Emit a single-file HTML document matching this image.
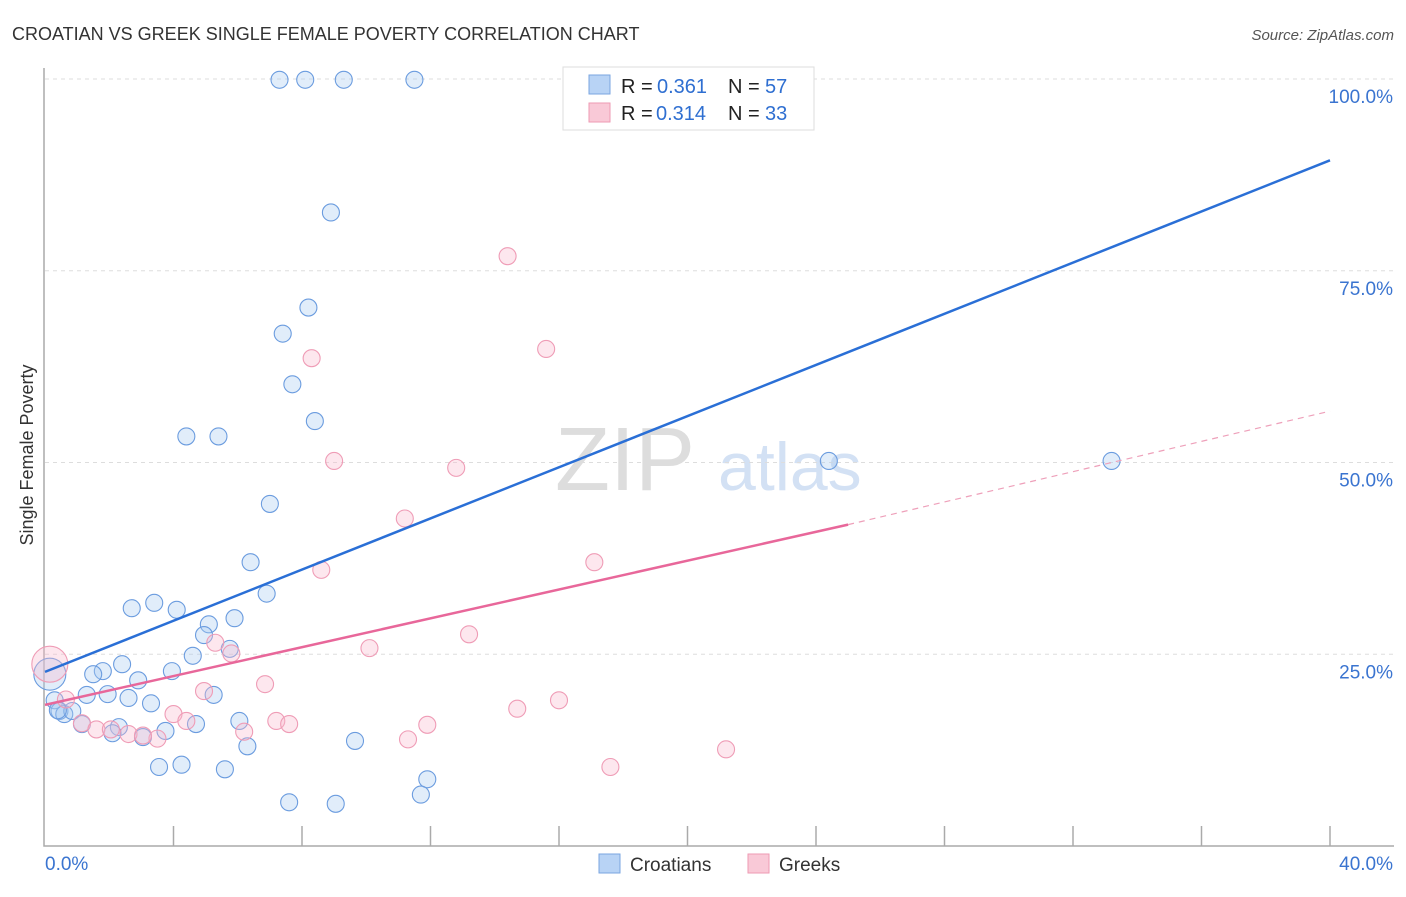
<!DOCTYPE html>
<html><head><meta charset="utf-8"><style>
body{margin:0;background:#fff;font-family:"Liberation Sans",sans-serif}
svg text{font-family:"Liberation Sans",sans-serif}
</style></head><body>
<svg id="c" width="1406" height="892">
<text x="12" y="40" font-size="18" fill="#333">CROATIAN VS GREEK SINGLE FEMALE POVERTY CORRELATION CHART</text>
<text x="1394" y="40" font-size="15" fill="#555" text-anchor="end" font-style="italic">Source: ZipAtlas.com</text>
<text x="33" y="455" font-size="18" fill="#333" text-anchor="middle" transform="rotate(-90 33 455)">Single Female Poverty</text>
<text x="555" y="490" font-size="90" fill="#ddd" font-family="Liberation Serif">ZIP</text>
<text x="718" y="490" font-size="68" fill="#d3e1f4">atlas</text>
<g id="grid"></g><g id="axes"></g><g id="pts"></g><g id="lines"></g>
<g>
<rect x="563" y="67" width="251" height="63" fill="#fff" stroke="#ddd"/>
<rect x="589" y="75" width="21" height="19" fill="#b8d3f5" stroke="#7aa6e0"/>
<rect x="589" y="103" width="21" height="19" fill="#f9c9d7" stroke="#ee9ab3"/>
<text x="621" y="93" font-size="20" fill="#222">R =</text><text x="657" y="93" font-size="20" fill="#2f6fd1">0.361</text>
<text x="728" y="93" font-size="20" fill="#222">N =</text><text x="765" y="93" font-size="20" fill="#2f6fd1">57</text>
<text x="621" y="120" font-size="20" fill="#222">R =</text><text x="656" y="120" font-size="20" fill="#2f6fd1">0.314</text>
<text x="728" y="120" font-size="20" fill="#222">N =</text><text x="765" y="120" font-size="20" fill="#2f6fd1">33</text>
</g>
<g>
<rect x="599" y="854" width="21" height="19" fill="#b8d3f5" stroke="#7aa6e0"/>
<text x="630" y="871" font-size="19" fill="#333">Croatians</text>
<rect x="748" y="854" width="21" height="19" fill="#f9c9d7" stroke="#ee9ab3"/>
<text x="779" y="871" font-size="19" fill="#333">Greeks</text>
</g>
</svg>
<script>
const yTicks=[25,50,75,100];
const xTickLabels=["0.0%","40.0%"];
const blueX=[7.3,8.1,9.3,11.5,8.9,8.2,7.4,7.7,8.4,4.4,5.4,7.0,6.4,6.9,2.7,3.4,4.1,5.9,5.1,4.95,5.75,4.6,2.4,3.95,1.8,1.5,2.9,1.3,1.95,5.25,0.3,3.3,2.6,0.45,0.6,0.85,0.4,1.15,2.3,2.1,3.05,3.75,4.7,6.05,6.3,9.65,3.55,4.25,5.6,11.9,7.6,9.05,11.7,24.4,33.2,0.15];
const blueY=[99.9,99.9,99.9,99.9,82.6,70.2,66.8,60.2,55.4,53.4,53.4,44.6,37.0,32.9,31.0,31.7,30.8,29.7,28.9,27.5,25.7,24.8,23.7,22.8,22.8,22.4,21.6,19.7,19.8,19.7,19.0,18.6,19.3,17.6,17.2,17.6,17.7,15.9,15.5,14.7,14.2,15.0,15.9,16.3,13.0,13.7,10.3,10.6,10.0,8.7,5.7,5.5,6.7,50.2,50.2,22.4];
const pinkX=[14.4,15.6,8.3,9.0,12.8,11.2,8.6,17.1,13.2,5.3,5.8,10.1,6.85,4.95,16.0,14.7,4.0,4.4,7.2,7.6,11.9,6.2,11.3,21.2,17.6,1.15,1.6,2.6,3.5,0.65,2.05,0.15,3.05];
const pinkY=[76.9,64.8,63.6,50.2,49.3,42.7,36.0,37.0,27.6,26.5,25.1,25.8,21.1,20.2,19.0,17.9,17.2,16.3,16.3,15.9,15.8,14.9,13.9,12.6,10.3,16.0,15.2,14.6,14.0,19.1,15.2,23.7,14.4];
const blueSizes={55:16};const pinkSizes={31:18};
const blueLine=[[0,22.7],[40,89.4]];
const pinkLine=[[0,18.4],[25,41.9]];const pinkDash=[[25,41.9],[40,56.7]];
const X=v=>45+v*32.125, Y=v=>846-v*7.67;
const NS="http://www.w3.org/2000/svg";
function mk(t,a,p){const e=document.createElementNS(NS,t);for(const k in a)e.setAttribute(k,a[k]);document.getElementById(p).appendChild(e);return e;}
yTicks.forEach(t=>{
 const l=mk('line',{x1:45,x2:1394,y1:Y(t),y2:Y(t),stroke:'#ddd','stroke-dasharray':'4 4'},'grid');
 
 
 const tx=mk('text',{x:1393,y:Y(t)+24,'font-size':19,fill:'#3a74d0','text-anchor':'end'},'grid');
 tx.textContent=t.toFixed(1)+'%';
 
 
});
const ax=mk('path',{d:'M44 68V846H1394',fill:'none',stroke:'#aaa','stroke-width':1.5},'axes');


for(let i=1;i<=10;i++){const t=mk('line',{x1:X(i*4),x2:X(i*4),y1:826,y2:846,stroke:'#aaa','stroke-width':1.5},'axes');
 
 }
[[0,'start',45],[40,'end',1393]].forEach((d,i)=>{const t=mk('text',{x:d[2],y:870,'font-size':19,fill:'#3a74d0','text-anchor':d[1]},'axes');t.textContent=xTickLabels[i];
 
 });
function pts(xs,ys,sz,fill,stroke,name){xs.forEach((x,i)=>{const c=mk('circle',{cx:X(x),cy:Y(ys[i]),r:sz[i]||8.5,fill:fill,stroke:stroke,'stroke-width':1.1},'pts');
 
 });}
pts(blueX,blueY,blueSizes,'rgba(170,202,242,0.35)','#6b9cdf','croatian-point');
pts(pinkX,pinkY,pinkSizes,'rgba(248,186,205,0.35)','#ef9cb6','greek-point');
function ln(p,st,dash,name,w){const l=mk('line',{x1:X(p[0][0]),y1:Y(p[0][1]),x2:X(p[1][0]),y2:Y(p[1][1]),stroke:st,'stroke-width':w},'lines');if(dash)l.setAttribute('stroke-dasharray',dash);
 
 }
ln(blueLine,'#2a6fd6',null,'croatian-trend-line',2.5);
ln(pinkLine,'#e8679a',null,'greek-trend-line',2.5);
ln(pinkDash,'#eea0ba','6 5','greek-trend-extension',1.2);
</script>
</body></html>
